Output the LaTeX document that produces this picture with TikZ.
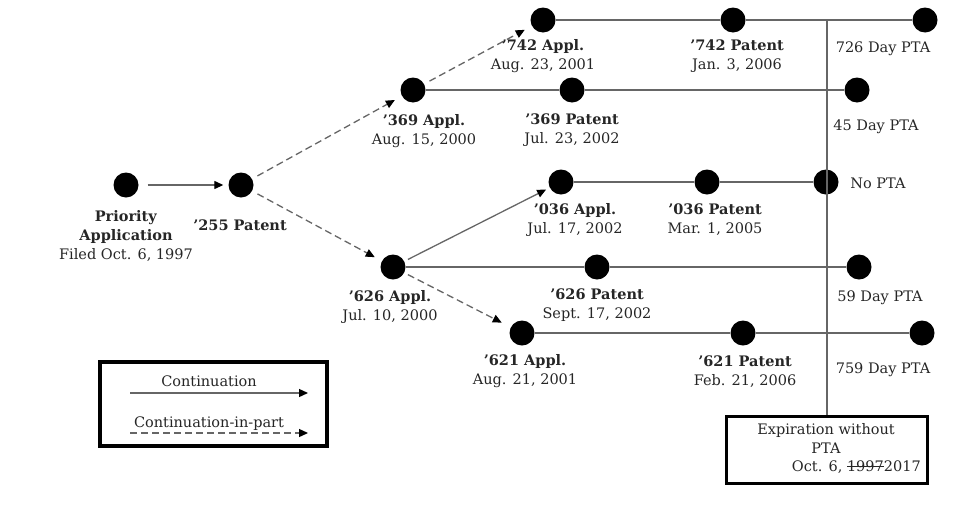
\documentclass[tikz,border=0pt]{standalone}
\usepackage{fontspec}
\setmainfont{DejaVu Serif}
\usetikzlibrary{arrows.meta}
\newcommand\strikeout[1]{\sbox0{#1}\rlap{\usebox0}\rule[0.3em]{\wd0}{0.08em}}
\tikzset{
  dot/.style={circle,fill=black,minimum size=25pt,inner sep=0pt},
  ln/.style={draw=black!60,line width=1.5pt},
  cont/.style={draw=black!60,line width=1.3pt,-{Triangle[length=9pt,width=8pt,black]}},
  cip/.style={cont,dash pattern=on 7pt off 4pt},
  lbl/.style={align=center,inner sep=0pt,font=\fontsize{14.5}{19}\selectfont,text=black!85},
  boxed/.style={draw=black,line width=3.5pt,fill=white,inner sep=0pt},
}
\begin{document}
\begin{tikzpicture}[x=1pt,y=-1pt]
\useasboundingbox (0,0) rectangle (974,509);
% dots
\node[dot] (pri)  at (126,185) {};
\node[dot] (p255) at (241,185) {};
\node[dot] (a369) at (413,90) {};
\node[dot] (a742) at (543,20) {};
\node[dot] (p742) at (733,20) {};
\node[dot] (e742) at (925,20) {};
\node[dot] (p369) at (572,90) {};
\node[dot] (e369) at (857,90) {};
\node[dot] (a036) at (561,182) {};
\node[dot] (p036) at (707,182) {};
\node[dot] (e036) at (826,182) {};
\node[dot] (a626) at (393,267) {};
\node[dot] (p626) at (597,267) {};
\node[dot] (e626) at (859,267) {};
\node[dot] (a621) at (522,333) {};
\node[dot] (p621) at (743,333) {};
\node[dot] (e621) at (922,333) {};
% expiration box
\node[boxed,minimum width=201pt,minimum height=67pt] (exp) at (827,450) {};
\coordinate (vtop) at (827,20);
\draw[ln] (vtop) -- (exp.north);
% horizontal lines
\draw[ln] (a742) -- (p742) -- (e742);
\draw[ln] (a369) -- (p369) -- (e369);
\draw[ln] (a036) -- (p036) -- (e036);
\draw[ln] (a626) -- (p626) -- (e626);
\draw[ln] (a621) -- (p621) -- (e621);
% continuation arrows
\draw[cont,shorten <=9pt,shorten >=5pt] (pri) -- (p255);
\draw[cont,shorten <=4pt,shorten >=4pt] (a626) -- (a036);
\draw[cip,shorten <=6pt,shorten >=8pt] (p255) -- (a369);
\draw[cip,shorten <=6pt,shorten >=8pt] (a369) -- (a742);
\draw[cip,shorten <=6pt,shorten >=8pt] (p255) -- (a626);
\draw[cip,shorten <=4pt,shorten >=10pt] (a626) -- (a621);
% labels
\node[lbl] (lpri) at (126,235.5) {\textbf{Priority}\\\textbf{Application}\\Filed Oct. 6, 1997};
\node[lbl] (l255) at (240,225) {\textbf{’255 Patent}};
\node[lbl] (l369a) at (424,131) {\textbf{’369 Appl.}\\Aug. 15, 2000};
\node[lbl] (l742a) at (543,56.5) {\textbf{’742 Appl.}\\Aug. 23, 2001};
\node[lbl] (l742p) at (737,56.5) {\textbf{’742 Patent}\\Jan. 3, 2006};
\node[lbl] (l726) at (883,49) {726 Day PTA};
\node[lbl] (l369p) at (572,130.5) {\textbf{’369 Patent}\\Jul. 23, 2002};
\node[lbl] (l45) at (876,127) {45 Day PTA};
\node[lbl] (lno) at (878,183) {No PTA};
\node[lbl] (l036a) at (575,219.5) {\textbf{’036 Appl.}\\Jul. 17, 2002};
\node[lbl] (l036p) at (715,219.5) {\textbf{’036 Patent}\\Mar. 1, 2005};
\node[lbl] (l626a) at (390,307) {\textbf{’626 Appl.}\\Jul. 10, 2000};
\node[lbl] (l626p) at (597,305.5) {\textbf{’626 Patent}\\Sept. 17, 2002};
\node[lbl] (l59) at (880,298) {59 Day PTA};
\node[lbl] (l621a) at (525,371) {\textbf{’621 Appl.}\\Aug. 21, 2001};
\node[lbl] (l621p) at (745,371.5) {\textbf{’621 Patent}\\Feb. 21, 2006};
\node[lbl] (l759) at (883,370) {759 Day PTA};
% expiration text
\node[lbl] (le1) at (826,438.5) {Expiration without\\PTA};
\node[lbl,anchor=east] (le2) at (921,467) {Oct. 6, \strikeout{1997}2017};
% legend
\node[boxed,minimum width=227pt,minimum height=84pt] (leg) at (213.5,404) {};
\coordinate (c1s) at (130,393);
\coordinate (c1e) at (308,393);
\coordinate (c2s) at (130,433);
\coordinate (c2e) at (308,433);
\draw[cont] (c1s) -- (c1e);
\draw[cip] (c2s) -- (c2e);
\node[lbl,font=\fontsize{14.5}{16}\selectfont] (legc) at (209,381) {Continuation};
\node[lbl,font=\fontsize{14.5}{16}\selectfont] (legp) at (209,424) {Continuation-in-part};
\end{tikzpicture}
\end{document}
